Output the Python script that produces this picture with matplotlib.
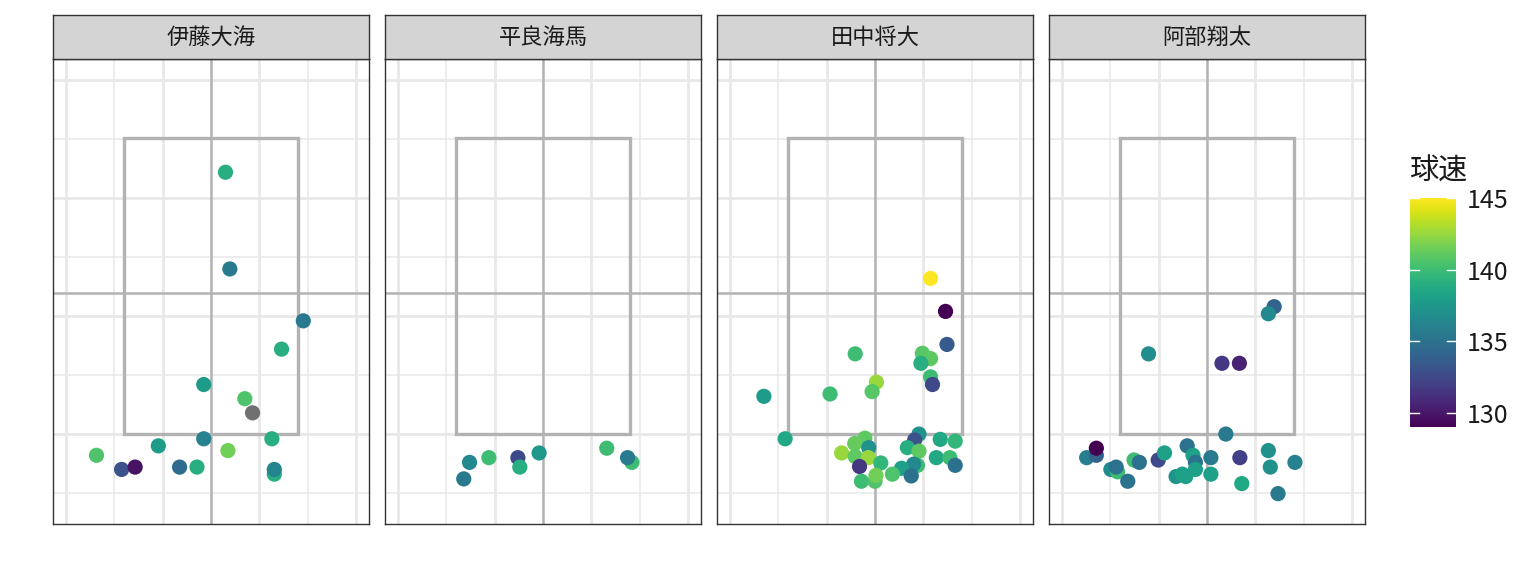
import numpy as np
import matplotlib
matplotlib.use("Agg")
import matplotlib.pyplot as plt
from matplotlib.patches import Rectangle
from matplotlib.colors import Normalize
from matplotlib.cm import ScalarMappable

plt.rcParams['font.family'] = ['Noto Sans CJK JP', 'DejaVu Sans']

pitchers = ["伊藤大海", "平良海馬", "田中将大", "阿部翔太"]

ito_x = [0.30, 0.39, 1.91, 1.46, -0.15, 0.70, 0.86, -0.15, 1.26, -1.09, 0.35, -2.37, -1.85, -1.57, -0.65, -0.29, 1.31, 1.31]
ito_y = [4.44, 2.80, 1.92, 1.44, 0.84, 0.60, 0.36, -0.08, -0.08, -0.20, -0.28, -0.36, -0.60, -0.56, -0.56, -0.56, -0.68, -0.60]
ito_speed = [139, 135.5, 135.5, 139, 137.8, 140.5, np.nan, 136, 139, 137.8, 141.5, 140.5, 133, 129.8, 134.5, 139, 139, 136.3]

taira_x = [-1.52, -1.64, -1.12, -0.52, -0.48, -0.08, 1.32, 1.84, 1.75]
taira_y = [-0.48, -0.76, -0.40, -0.40, -0.56, -0.32, -0.24, -0.48, -0.40]
taira_speed = [136.5, 135.5, 140, 132.5, 139, 137.5, 140, 140, 135.5]

tanaka_x = [1.15, 1.46, 1.49, -0.41, 0.98, 1.15, 0.95, 1.15, 1.19, 0.03, -0.06, -2.30, -0.93, -1.86,
            0.91, 0.82, 1.35, 1.66, -0.21, -0.42, -0.69, -0.13, -0.41, -0.14, -0.32, 0.12, 0.67, 0.91,
            0.88, 0.80, 0.55, 0.36, 0.75, 1.27, 1.55, 1.66, -0.28, 0.00, 0.02]
tanaka_y = [2.64, 2.08, 1.52, 1.36, 1.37, 1.28, 1.20, 0.97, 0.84, 0.88, 0.72, 0.64, 0.68, -0.08,
            0.00, -0.10, -0.09, -0.12, -0.07, -0.16, -0.32, -0.23, -0.38, -0.40, -0.55, -0.49, -0.23, -0.29,
            -0.53, -0.51, -0.58, -0.68, -0.71, -0.40, -0.40, -0.53, -0.80, -0.80, -0.70]
tanaka_speed = [145, 129, 133.5, 140, 140.8, 141, 139, 140, 132.5, 142.5, 140.8, 137.8, 140, 138.6,
                137, 133, 138.6, 139.5, 141, 141.2, 142.5, 137, 141, 142.5, 131.5, 139.5, 139, 141,
                140, 136.5, 138, 140.5, 135, 138.6, 140, 135, 140, 140.5, 141.5]

abe_x = [1.39, 1.27, -1.21, 0.31, 0.67, 0.39, -2.49, -2.29, -2.29, -1.51, -1.40, -1.99, -1.85, -1.88, -1.64,
         -1.01, -0.88, -0.41, -0.29, -0.24, -0.24, -0.64, -0.51, -0.44, 0.08, 0.08, 0.68, 0.72, 1.27, 1.31, 1.82, 1.47]
abe_y = [2.16, 2.04, 1.36, 1.20, 1.20, 0.00, -0.40, -0.36, -0.24, -0.44, -0.48, -0.60, -0.64, -0.56, -0.80,
         -0.44, -0.32, -0.20, -0.36, -0.48, -0.60, -0.72, -0.68, -0.72, -0.40, -0.68, -0.40, -0.84, -0.28, -0.56, -0.48, -1.01]
abe_speed = [134, 136.5, 136.8, 131.5, 130.5, 135.5, 135.8, 134, 129, 140, 135, 136.8, 140, 135, 135,
             132.5, 138, 135, 138, 135, 138, 137.3, 138, 138, 135.5, 138, 132, 138.5, 137, 137, 136, 135.5]

xs = [ito_x, taira_x, tanaka_x, abe_x]
ys = [ito_y, taira_y, tanaka_y, abe_y]
speeds = [ito_speed, taira_speed, tanaka_speed, abe_speed]

W, H = 1536, 576
fig = plt.figure(figsize=(W / 100, H / 100), dpi=100)
fig.patch.set_facecolor('white')

cmap = plt.get_cmap('viridis')
norm = Normalize(vmin=129, vmax=145)

panel_left = [53, 385, 717, 1049]
panel_w = 316
panel_top, panel_bot = 59, 524
strip_top = 15

def fx(px):
    return px / W

def fy(py):
    return 1 - py / H

for i, name in enumerate(pitchers):
    l = panel_left[i]
    ax = fig.add_axes([fx(l), fy(panel_bot), panel_w / W, (panel_bot - panel_top) / H])
    ax.set_xlim(-3.27, 3.27)
    ax.set_ylim(-1.525, 6.36)
    ax.set_facecolor('white')
    for v in [-3, -1, 1, 3]:
        ax.axvline(v, color='#e8e8e8', lw=2.0, zorder=0)
    for v in [-2, 0, 2]:
        ax.axvline(v, color='#e8e8e8', lw=1.1, zorder=0)
    for v in [0, 2, 4, 6]:
        ax.axhline(v, color='#e8e8e8', lw=2.0, zorder=0)
    for v in [-1, 1, 3, 5]:
        ax.axhline(v, color='#e8e8e8', lw=1.1, zorder=0)
    ax.add_patch(Rectangle((-1.81, 0.0), 3.62, 5.02, fill=False, edgecolor='#b3b3b3', lw=2.4, zorder=1))
    ax.axvline(0, color='#b3b3b3', lw=1.8, zorder=1)
    ax.axhline(2.39, color='#b3b3b3', lw=1.8, zorder=1)
    sp = np.array(speeds[i], dtype=float)
    x = np.array(xs[i])
    y = np.array(ys[i])
    ok = ~np.isnan(sp)
    if (~ok).any():
        ax.scatter(x[~ok], y[~ok], s=120, color='#707070', edgecolors='none', zorder=3)
    ax.scatter(x[ok], y[ok], c=sp[ok], cmap=cmap, norm=norm, s=120, edgecolors='none', zorder=3)
    ax.set_xticks([])
    ax.set_yticks([])
    for s in ax.spines.values():
        s.set_color('#333333')
        s.set_linewidth(1.0)
    sax = fig.add_axes([fx(l), fy(panel_top), panel_w / W, (panel_top - strip_top) / H])
    sax.set_facecolor('#d4d4d4')
    sax.set_xticks([])
    sax.set_yticks([])
    for s in sax.spines.values():
        s.set_color('#333333')
        s.set_linewidth(1.0)
    sax.text(0.5, 0.5, name, ha='center', va='center', fontsize=16, color='#1a1a1a',
             transform=sax.transAxes)

# colorbar
cax = fig.add_axes([fx(1410), fy(427), 46 / W, (427 - 198) / H])
cb = fig.colorbar(ScalarMappable(norm=norm, cmap=cmap), cax=cax)
cb.outline.set_visible(False)
cb.set_ticks([130, 135, 140, 145])
cax.tick_params(length=0, labelsize=18, pad=8, colors='#1a1a1a')
for t in [130, 135, 140, 145]:
    cax.plot([0, 0.2], [t, t], color='white', lw=1.0, transform=cax.get_yaxis_transform())
    cax.plot([0.8, 1.0], [t, t], color='white', lw=1.0, transform=cax.get_yaxis_transform())
fig.text(fx(1409), fy(172), "球速", ha='left', va='center', fontsize=21, color='#1a1a1a')

fig.savefig('out.png', dpi=100)
